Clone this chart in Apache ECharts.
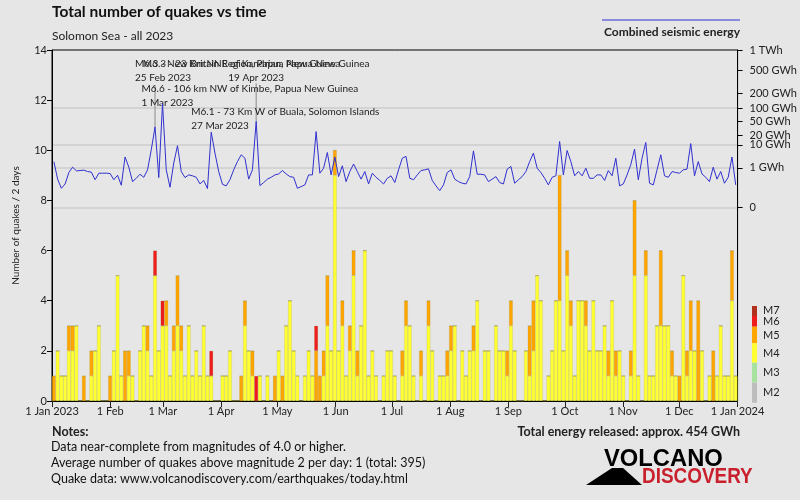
<!DOCTYPE html>
<html><head><meta charset="utf-8">
<script src="https://cdn.jsdelivr.net/npm/echarts/dist/echarts.min.js"></script>
<style>html,body{margin:0;padding:0;background:#e6e6e6}#c{width:800px;height:500px}</style>
</head><body><div id="c"></div>
<script>
const monthStarts = [0,31,59,90,120,151,181,212,243,273,304,334,365];
const monthLabels = ['1 Jan 2023','1 Feb','1 Mar','1 Apr','1 May','1 Jun','1 Jul','1 Aug','1 Sep','1 Oct','1 Nov','1 Dec','1 Jan 2024'];

// quakes per 2-day bin (bin i covers days 2i..2i+1 of 2023)
const m4 = [0,2,1,1,2,2,3,0,0,0,
 1,2,3,0,0,0,2,5,1,0,
 1,1,0,2,3,2,1,5,2,3,
 3,1,2,3,2,1,3,1,2,1,
 3,1,1,0,0,1,1,2,0,0,
 0,3,2,1,0,1,0,1,0,0,
 2,0,3,4,2,1,0,1,2,1,
 0,0,1,3,2,9,2,3,1,2,
 5,1,3,6,1,2,1,0,1,2,
 2,1,0,1,3,3,1,0,1,0,
 3,2,0,1,1,1,2,3,0,2,
 1,2,2,4,0,2,2,0,3,2,
 2,1,3,2,0,0,2,1,2,5,
 4,0,1,2,4,4,2,5,3,1,
 4,4,3,2,4,2,2,3,1,4,
 1,2,1,0,1,5,1,0,5,1,
 1,3,3,3,3,1,1,0,5,1,
 2,2,0,2,0,1,0,1,3,1,
 1,4,1];
const m5 = [1,0,0,0,1,1,0,0,1,0,
 1,0,0,0,0,1,0,0,0,2,
 1,0,0,0,0,1,0,0,0,0,
 1,0,1,2,1,0,0,0,0,0,
 0,0,0,0,0,0,0,0,0,0,
 1,1,0,1,0,0,0,0,0,1,
 0,1,0,0,0,0,0,0,0,0,
 2,1,1,2,0,1,0,1,0,1,
 1,1,0,0,0,0,0,0,0,0,
 0,0,0,1,1,0,0,0,1,0,
 1,0,0,0,0,1,1,0,0,0,
 0,0,1,0,0,0,0,0,0,0,
 0,1,1,0,0,0,0,2,2,0,
 0,0,0,0,0,5,0,1,1,0,
 0,0,1,0,0,0,0,0,1,0,
 1,0,0,0,1,3,0,0,1,0,
 0,0,3,0,0,1,0,1,0,1,
 2,0,4,0,0,0,2,0,0,0,
 0,2,0];
const m6 = [0,0,0,0,0,0,0,0,0,0,
 0,0,0,0,0,0,0,0,0,0,
 0,0,0,0,0,0,0,1,0,1,
 0,0,0,0,0,0,0,0,0,0,
 0,0,1,0,0,0,0,0,0,0,
 0,0,0,0,1,0,0,0,0,0,
 0,0,0,0,0,0,0,0,0,0,
 1,0,0,0,0,0,0,0,0,0,
 0,0,0,0,0,0,0,0,0,0,
 0,0,0,0,0,0,0,0,0,0,
 0,0,0,0,0,0,0,0,0,0,
 0,0,0,0,0,0,0,0,0,0,
 0,0,0,0,0,0,0,0,0,0,
 0,0,0,0,0,0,0,0,0,0,
 0,0,0,0,0,0,0,0,0,0,
 0,0,0,0,0,0,0,0,0,0,
 0,0,0,0,0,0,0,0,0,0,
 0,0,0,0,0,0,0,0,0,0,
 0,0,0];
// combined seismic energy per 2-day bin, GWh
const energyGWh = [2.1,0.19,0.027,0.075,0.54,1.1,0.68,0.71,0.75,0.62,
 0.57,0.17,0.49,0.49,0.49,0.47,0.17,0.36,0.056,3.4,
 1.1,0.12,0.22,0.42,0.26,0.78,6.6,35,0.25,125,
 0.78,0.035,1.8,9.3,0.62,0.25,0.38,0.33,0.26,0.075,
 0.15,0.025,25,4.9,0.62,0.07,0.049,0.17,0.78,2.1,
 4.2,3.0,0.19,0.78,49,0.052,0.1,0.19,0.26,0.38,
 0.44,0.71,0.44,0.29,0.26,0.027,0.041,0.061,0.38,0.38,
 26,0.49,0.97,5.2,0.38,3.4,0.29,1.3,0.12,0.62,
 1.6,0.62,0.19,0.62,0.075,0.49,0.26,0.15,0.075,0.22,
 0.33,0.1,0.78,3.0,3.6,0.22,0.17,0.38,0.71,0.78,
 0.89,0.15,0.049,0.014,0.061,0.54,0.78,0.19,0.12,0.087,
 0.075,0.29,6.0,0.42,0.42,0.38,0.12,0.19,0.29,0.1,
 0.075,0.86,1.2,0.087,0.17,0.29,0.62,2.1,4.9,0.97,
 0.54,0.22,0.061,0.26,0.33,13,0.38,6.2,2.1,0.33,
 0.62,0.33,0.97,0.22,0.22,0.38,0.38,0.15,0.71,0.33,
 3.0,0.049,0.075,0.38,1.5,7.0,0.17,3.0,12,0.087,
 0.061,0.78,4.2,0.33,0.26,0.62,0.54,0.49,0.78,0.86,
 11,0.33,2.1,0.44,0.26,0.12,1.1,0.19,0.62,0.087,
 0.26,3.4,0.061];

const energyTicks = [1000,500,200,100,50,20,10,1,0];
const energyTickLabels = ['1 TWh','500 GWh','200 GWh','100 GWh','50 GWh','20 GWh','10 GWh','1 GWh','0'];
const energyGridValues = [100,10,1,0];

const annotBins = [27,29,42,54];
const annotTitles = ['M6.3 - New Britain Region, Papua New Guinea','M6.6 - 106 km NW of Kimbe, Papua New Guinea','M6.1 - 73 Km W of Buala, Solomon Islands','M6.3 - 23 Km NNE of Kandrian, Papua New Guinea'];
const annotDates = ['25 Feb 2023','1 Mar 2023','27 Mar 2023','19 Apr 2023'];

const magLegend = ['M7','M6','M5','M4','M3','M2'];
const magColors = ['#b3301e','#ee1c1c','#ffa500','#ffff33','#a8e2a0','#bdbdbd'];

// layout for annotations (pixels)
const annotLayout = [
  {h:42, dx:-20, dy:0, align:'left'},
  {h:0, dx:-21, dy:6, align:'left'},
  {h:0, dx:-20, dy:1, align:'left'},
  {h:38, dx:0, dy:1, align:'center'}
];

const binNames = m4.map((_, i) => 'bin' + i);
const tf = e => Math.pow(e, 0.2);
const eMax = tf(1000);
const eMin = -eMax * (401 - 207.5) / (207.5 - 50);
const FONT = 'Lato, "Open Sans", sans-serif';

const chart = echarts.init(document.getElementById('c'), null, {renderer:'canvas'});

const magLegendEls = [];
const blockH = [10, 10.7, 16.6, 19.4, 20, 20];
let yy = 306;
magLegend.forEach((m, k) => {
  magLegendEls.push({type:'rect', shape:{x:752, y:yy, width:5, height:blockH[k]}, style:{fill:magColors[k]}});
  magLegendEls.push({type:'text', x:763, y:yy + blockH[k]/2 + (k===0?-1:0), style:{text:m, font:'11px ' + FONT, fill:'#222', textVerticalAlign:'middle'}});
  yy += blockH[k];
});

const barStyle = c => ({color:c, borderColor:'rgba(110,110,0,0.25)', borderWidth:0.5});

const option = {
  backgroundColor:'#e6e6e6',
  animation:false,
  textStyle:{fontFamily:FONT},
  grid:{left:52, right:60, top:50, bottom:99, show:true, borderColor:'#000', borderWidth:1, backgroundColor:'transparent'},
  xAxis:[
    {type:'category', data:binNames, boundaryGap:true, show:false},
    {type:'value', min:0, max:365, position:'bottom',
     axisLine:{onZero:false, lineStyle:{color:'#000'}},
     axisTick:{customValues:monthStarts, length:6, lineStyle:{color:'#222'}},
     axisLabel:{customValues:monthStarts, formatter:v => monthLabels[monthStarts.indexOf(v)], fontSize:11, color:'#222', margin:5},
     splitLine:{show:false}}
  ],
  yAxis:[
    {type:'value', min:0, max:14, interval:2, position:'left',
     axisLine:{show:true, onZero:false, lineStyle:{color:'#000'}},
     axisTick:{show:true, length:5, lineStyle:{color:'#000'}},
     axisLabel:{fontSize:11, color:'#222', margin:5},
     splitLine:{show:false},
     name:'Number of quakes / 2 days', nameLocation:'middle', nameGap:31, nameRotate:90,
     nameTextStyle:{fontSize:10, color:'#222'}},
    {type:'value', min:eMin, max:eMax, position:'right',
     axisLine:{show:true, onZero:false, lineStyle:{color:'#000'}},
     axisTick:{show:true, customValues:energyTicks.map(tf), length:5, lineStyle:{color:'#000'}},
     axisLabel:{customValues:energyTicks.map(tf), fontSize:11, color:'#222', margin:12,
       formatter:v => { let best=0, d=1e9; energyTicks.forEach((e,k)=>{const dd=Math.abs(tf(e)-v); if(dd<d){d=dd;best=k;}}); return energyTickLabels[best]; }},
     splitLine:{show:false}},
    {type:'value', min:eMin, max:eMax, position:'right',
     axisLine:{show:false, onZero:false}, axisTick:{show:false, customValues:energyGridValues.map(tf)},
     axisLabel:{show:false}, splitLine:{show:true, lineStyle:{color:'#cdcdcd', width:1.5}}}
  ],
  series:[
    {type:'bar', name:'M4', stack:'q', xAxisIndex:0, barCategoryGap:'0%', data:m4, itemStyle:barStyle('#ffff33')},
    {type:'bar', name:'M5', stack:'q', xAxisIndex:0, barCategoryGap:'0%', data:m5, itemStyle:barStyle('#ffa500')},
    {type:'bar', name:'M6', stack:'q', xAxisIndex:0, barCategoryGap:'0%', data:m6, itemStyle:barStyle('#ee1c1c')},
    {type:'line', name:'Combined seismic energy', xAxisIndex:0, yAxisIndex:1, z:5, symbol:'none',
     data:energyGWh.map(tf),
     lineStyle:{color:'#3030d0', width:1},
     markPoint:{
       silent:true,
       data:annotBins.map((b,k)=>{
         const L = annotLayout[k];
         return {
           coord:[b, tf(energyGWh[b])],
           symbol:'rect', symbolSize:[1, Math.max(L.h,0.01)], symbolOffset:[0, -L.h/2],
           itemStyle:{color:'#8a8a8a'},
           label:{show:true, position:'top', distance:0, align:L.align, offset:[L.dx, L.dy],
             formatter:annotTitles[k] + '\n' + annotDates[k],
             fontSize:10, lineHeight:14, color:'#222', fontFamily:FONT}
         };
       })
     }}
  ],
  graphic:[
    {type:'text', x:52, y:12, style:{text:'Total number of quakes vs time', font:'bold 15.5px ' + FONT, fill:'#111', textVerticalAlign:'middle'}},
    {type:'text', x:52, y:36, style:{text:'Solomon Sea - all 2023', font:'12px ' + FONT, fill:'#222', textVerticalAlign:'middle'}},
    {type:'line', shape:{x1:602, y1:20, x2:740, y2:20}, style:{stroke:'#3030d0', lineWidth:1}},
    {type:'text', x:740, y:32, style:{text:'Combined seismic energy', font:'bold 12px ' + FONT, fill:'#222', textAlign:'right', textVerticalAlign:'middle'}},
    ...magLegendEls,
    {type:'text', x:52, y:432, style:{text:'Notes:', font:'bold 12.5px ' + FONT, fill:'#222', textVerticalAlign:'middle'}},
    {type:'text', x:51, y:447, style:{text:'Data near-complete from magnitudes of 4.0 or higher.', font:'12.5px ' + FONT, fill:'#111', textVerticalAlign:'middle'}},
    {type:'text', x:51, y:463, style:{text:'Average number of quakes above magnitude 2 per day: 1 (total: 395)', font:'12.5px ' + FONT, fill:'#111', textVerticalAlign:'middle'}},
    {type:'text', x:51, y:479, style:{text:'Quake data: www.volcanodiscovery.com/earthquakes/today.html', font:'12.5px ' + FONT, fill:'#111', textVerticalAlign:'middle'}},
    {type:'text', x:740, y:432, style:{text:'Total energy released: approx. 454 GWh', font:'bold 12.5px ' + FONT, fill:'#222', textAlign:'right', textVerticalAlign:'middle'}},
    {type:'polygon', shape:{points:[[586,485],[612,468],[623,468],[642,485]]}, style:{fill:'#000'}},
    {type:'text', x:604, y:459, scaleX:0.99, style:{text:'VOLCANO', font:'bold 24px "Liberation Sans", Arial, sans-serif', fill:'#000', textVerticalAlign:'middle'}},
    {type:'text', x:642, y:477, scaleX:0.86, style:{text:'DISCOVERY', font:'bold 22px "Liberation Sans", Arial, sans-serif', fill:'#c8202c', textVerticalAlign:'middle'}}
  ]
};
chart.setOption(option);
</script></body></html>
